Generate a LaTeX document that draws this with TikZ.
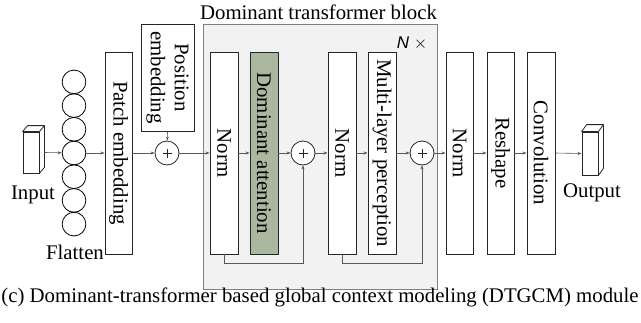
\documentclass[tikz,border=0pt]{standalone}
\usepackage{fontspec}
\setmainfont{Liberation Serif}
\newfontfamily\labelsans{Liberation Sans}
\usetikzlibrary{arrows.meta}
\begin{document}
\begin{tikzpicture}[x=1pt,y=-1pt,
  every node/.style={font=\fontsize{20.8}{24}\selectfont},
  layer/.style={draw=black!85, line width=0.9pt, fill=white, rotate=-90,
    minimum width=202, minimum height=28, inner sep=0pt, align=center},
  attn/.style={layer, fill=attnfill},
  blockbg/.style={draw=black!50, line width=0.9pt, fill=black!5, inner sep=0pt},
  addop/.style={circle, draw=black!85, line width=0.8pt, fill=white, minimum size=24, inner sep=0pt,
    path picture={
      \draw[line width=0.5pt] ([xshift=-4.5pt]path picture bounding box.center) -- ++(9,0);
      \draw[line width=0.5pt] ([yshift=-4.5pt]path picture bounding box.center) -- ++(0,-9);
    }},
  token/.style={circle, draw=black, line width=0.8pt, minimum size=23.7, inner sep=0pt},
  face/.style={draw=black!85, line width=0.8pt, minimum width=16, inner sep=0pt},
  cubeside/.style={draw=black!85, line width=0.8pt, fill=white, line join=round},
  conn/.style={draw=black!65, line width=0.6pt, -{Stealth[length=4pt,width=3pt]}},
]
\definecolor{attnfill}{RGB}{170,184,160}
\useasboundingbox (0,0) rectangle (641,322);

% transformer block background and its labels
\node[blockbg, minimum width=234, minimum height=265] (blk) at (320,156.5) {};
\node (title) at (318.5,12.5) {Dominant transformer block};
\node[font=\labelsans\fontsize{17}{20}\selectfont] (rep) at (412,43) {\textit{N} $\times$};

% input tensor
\node[face, minimum height=41] (in) at (31,152.5) {};
\draw[cubeside] (in.north west) -- ++(5,-6) -| ([shift={(5,-6)}]in.south east) -- (in.south east) -- (in.north east) -- cycle;
\draw[cubeside] (in.north east) -- ++(5,-6);
\coordinate (inR) at ([xshift=5pt]in.east);
\node (inlbl) at (33,195) {Input};

% flattened tokens
\foreach \k in {1,...,7} {
  \node[token] (f\k) at (74,{153+(\k-4)*23.7}) {};
}
\node (flat) at (75,252) {Flatten};

% embedding stage
\node[layer, minimum height=27] (pe) at (118.5,153) {Patch embedding};
\node[layer, minimum width=107, minimum height=53] (pos) at (167.5,77.5) {Position\\embedding};
\node[addop] (p0) at (167,153) {};

% transformer block contents
\node[layer] (n1) at (224,153) {Norm};
\node[attn] (da) at (264,153) {Dominant attention};
\node[addop] (p1) at (303,153) {};
\node[layer] (n2) at (342,153) {Norm};
\node[layer] (mlp) at (382,153) {Multi-layer perception};
\node[addop] (p2) at (422,153) {};

% output stage
\node[layer, minimum height=27] (n3) at (459.5,153) {Norm};
\node[layer, minimum height=27] (rs) at (500.5,153) {Reshape};
\node[layer] (cv) at (541,153) {Convolution};

% output tensor
\node[face, minimum height=43] (out) at (590,153.5) {};
\draw[cubeside] (out.north west) -- ++(5,-7) -| ([shift={(5,-7)}]out.south east) -- (out.south east) -- (out.north east) -- cycle;
\draw[cubeside] (out.north east) -- ++(5,-7);
\node (outlbl) at (592,193) {Output};

% caption
\node (cap) at (320,297) {(c) Dominant-transformer based global context modeling (DTGCM) module};

% main data path
\draw[conn] (inR) -- (f4);
\draw[conn] (f4) -- (pe.south);
\draw[conn] (pe.north) -- (p0);
\draw[conn] (pos.east) -- (p0);
\draw[conn] (p0) -- (n1.south);
\draw[conn] (n1.north) -- (da.south);
\draw[conn] (da.north) -- (p1);
\draw[conn] (p1) -- (n2.south);
\draw[conn] (n2.north) -- (mlp.south);
\draw[conn] (mlp.north) -- (p2);
\draw[conn] (p2) -- (n3.south);
\draw[conn] (n3.north) -- (rs.south);
\draw[conn] (rs.north) -- (cv.south);
\draw[conn] (cv.north) -- (out.west);

% residual connections
\draw[conn] (n1.east) -- ++(0,9) -| (p1);
\draw[conn] (n2.east) -- ++(0,9) -| (p2);
\end{tikzpicture}
\end{document}
